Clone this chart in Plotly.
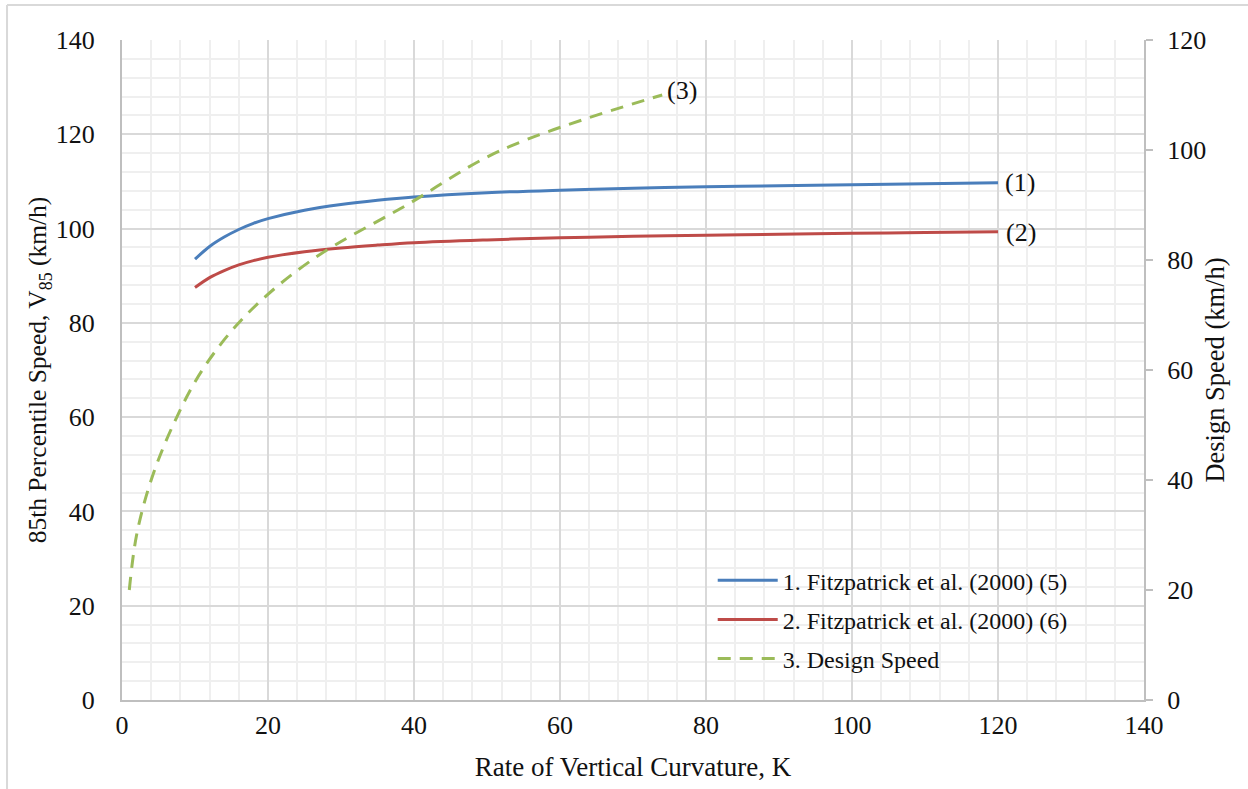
import plotly.graph_objects as go

# ---- data ----
k_fitz = [10, 12, 14, 16, 18, 20, 25, 30, 35, 40, 50, 60, 70, 80, 90, 100, 110, 120]
v85_eq5 = [93.5, 96.2, 98.2, 99.8, 101.1, 102.1, 103.9, 105.1, 106.0, 106.7, 107.6, 108.15, 108.55, 108.85, 109.1, 109.3, 109.5, 109.7]
v85_eq6 = [87.5, 89.6, 91.1, 92.3, 93.2, 93.9, 95.1, 95.9, 96.5, 97.0, 97.6, 98.05, 98.35, 98.6, 98.8, 99.0, 99.15, 99.3]
k_design = [1, 2, 4, 7, 11, 17, 26, 39, 52, 74]
design_speed = [20, 30, 40, 50, 60, 70, 80, 90, 100, 110]

names = ["1. Fitzpatrick et al. (2000) (5)", "2. Fitzpatrick et al. (2000) (6)", "3. Design Speed"]
end_labels = ["(1)", "(2)", "(3)"]
x_ticks = [0, 20, 40, 60, 80, 100, 120, 140]
y_ticks = [0, 20, 40, 60, 80, 100, 120, 140]
y2_ticks = [0, 20, 40, 60, 80, 100, 120]

FONT = "Liberation Serif, Times New Roman, serif"
BLUE, RED, GREEN = "#4A7EBB", "#BE4B48", "#9BBB59"

fig = go.Figure()
fig.add_trace(go.Scatter(x=k_fitz, y=v85_eq5, mode="lines", name=names[0],
                         line=dict(color=BLUE, width=3, shape="spline", smoothing=1), legendgroup="a"))
fig.add_trace(go.Scatter(x=k_fitz, y=v85_eq6, mode="lines", name=names[1],
                         line=dict(color=RED, width=3, shape="spline", smoothing=1), legendgroup="b"))
fig.add_trace(go.Scatter(x=k_design, y=design_speed, mode="lines", name=names[2], yaxis="y2",
                         line=dict(color=GREEN, width=3, shape="spline", dash="13px,9px"), legendgroup="c"))

# end labels
lab_font = dict(family=FONT, size=26, color="#111")
fig.add_annotation(x=k_fitz[-1], y=v85_eq5[-1], text=end_labels[0], showarrow=False,
                   xanchor="left", xshift=5, font=lab_font)
fig.add_annotation(x=k_fitz[-1], y=v85_eq6[-1], text=end_labels[1], showarrow=False,
                   xanchor="left", xshift=6, yshift=-1, font=lab_font)
fig.add_annotation(x=k_design[-1], y=design_speed[-1], yref="y2", text=end_labels[2], showarrow=False,
                   xanchor="left", xshift=3, yshift=5, font=lab_font)

# chart-area border (top and left visible)
fig.add_shape(type="line", xref="paper", yref="paper", x0=-0.1125, x1=1.2, y0=1.053, y1=1.053,
              line=dict(color="#D9D9D9", width=2))
fig.add_shape(type="line", xref="paper", yref="paper", x0=-0.1125, x1=-0.1125, y0=-0.2, y1=1.053,
              line=dict(color="#D9D9D9", width=2))

fig.update_layout(
    width=1248, height=789,
    margin=dict(l=122, r=104, t=40, b=89),
    paper_bgcolor="white", plot_bgcolor="white",
    font=dict(family=FONT, size=26, color="#111"),
    showlegend=True,
    legend=dict(x=0.578, y=0.215, xanchor="left", yanchor="top", bgcolor="rgba(0,0,0,0)",
                font=dict(family=FONT, size=24, color="#111"), tracegroupgap=5,
                itemwidth=60),
    xaxis=dict(range=[0, 140], tickvals=x_ticks, showline=True, linecolor="#BFBFBF", linewidth=2,
               showgrid=True, gridcolor="#D9D9D9", gridwidth=1.5, zeroline=False, ticks="",
               ticklabelstandoff=1, tickfont=dict(size=26),
               minor=dict(dtick=4, showgrid=True, gridcolor="#EFEFEF", gridwidth=1.5),
               title=dict(text="Rate of Vertical Curvature, K", font=dict(size=27), standoff=18)),
    yaxis=dict(range=[0, 140], tickvals=y_ticks, showline=True, linecolor="#BFBFBF", linewidth=2,
               showgrid=True, gridcolor="#D9D9D9", gridwidth=1.5, zeroline=False, ticks="",
               ticklabelstandoff=20, tickfont=dict(size=26),
               minor=dict(dtick=4, showgrid=True, gridcolor="#EFEFEF", gridwidth=1.5),
               title=dict(text="85th Percentile Speed, V<sub>85</sub> (km/h)", font=dict(size=25.5), standoff=0)),
    yaxis2=dict(range=[0, 120], tickvals=y2_ticks, overlaying="y", side="right", showline=True,
                linecolor="#BFBFBF", linewidth=2, showgrid=False, zeroline=False,
                ticks="outside", ticklen=7, tickcolor="#BFBFBF", tickwidth=2, ticklabelstandoff=9,
                tickfont=dict(size=26),
                title=dict(text="Design Speed (km/h)", font=dict(size=26.5), standoff=0)),
)

fig.write_html("out.html")
